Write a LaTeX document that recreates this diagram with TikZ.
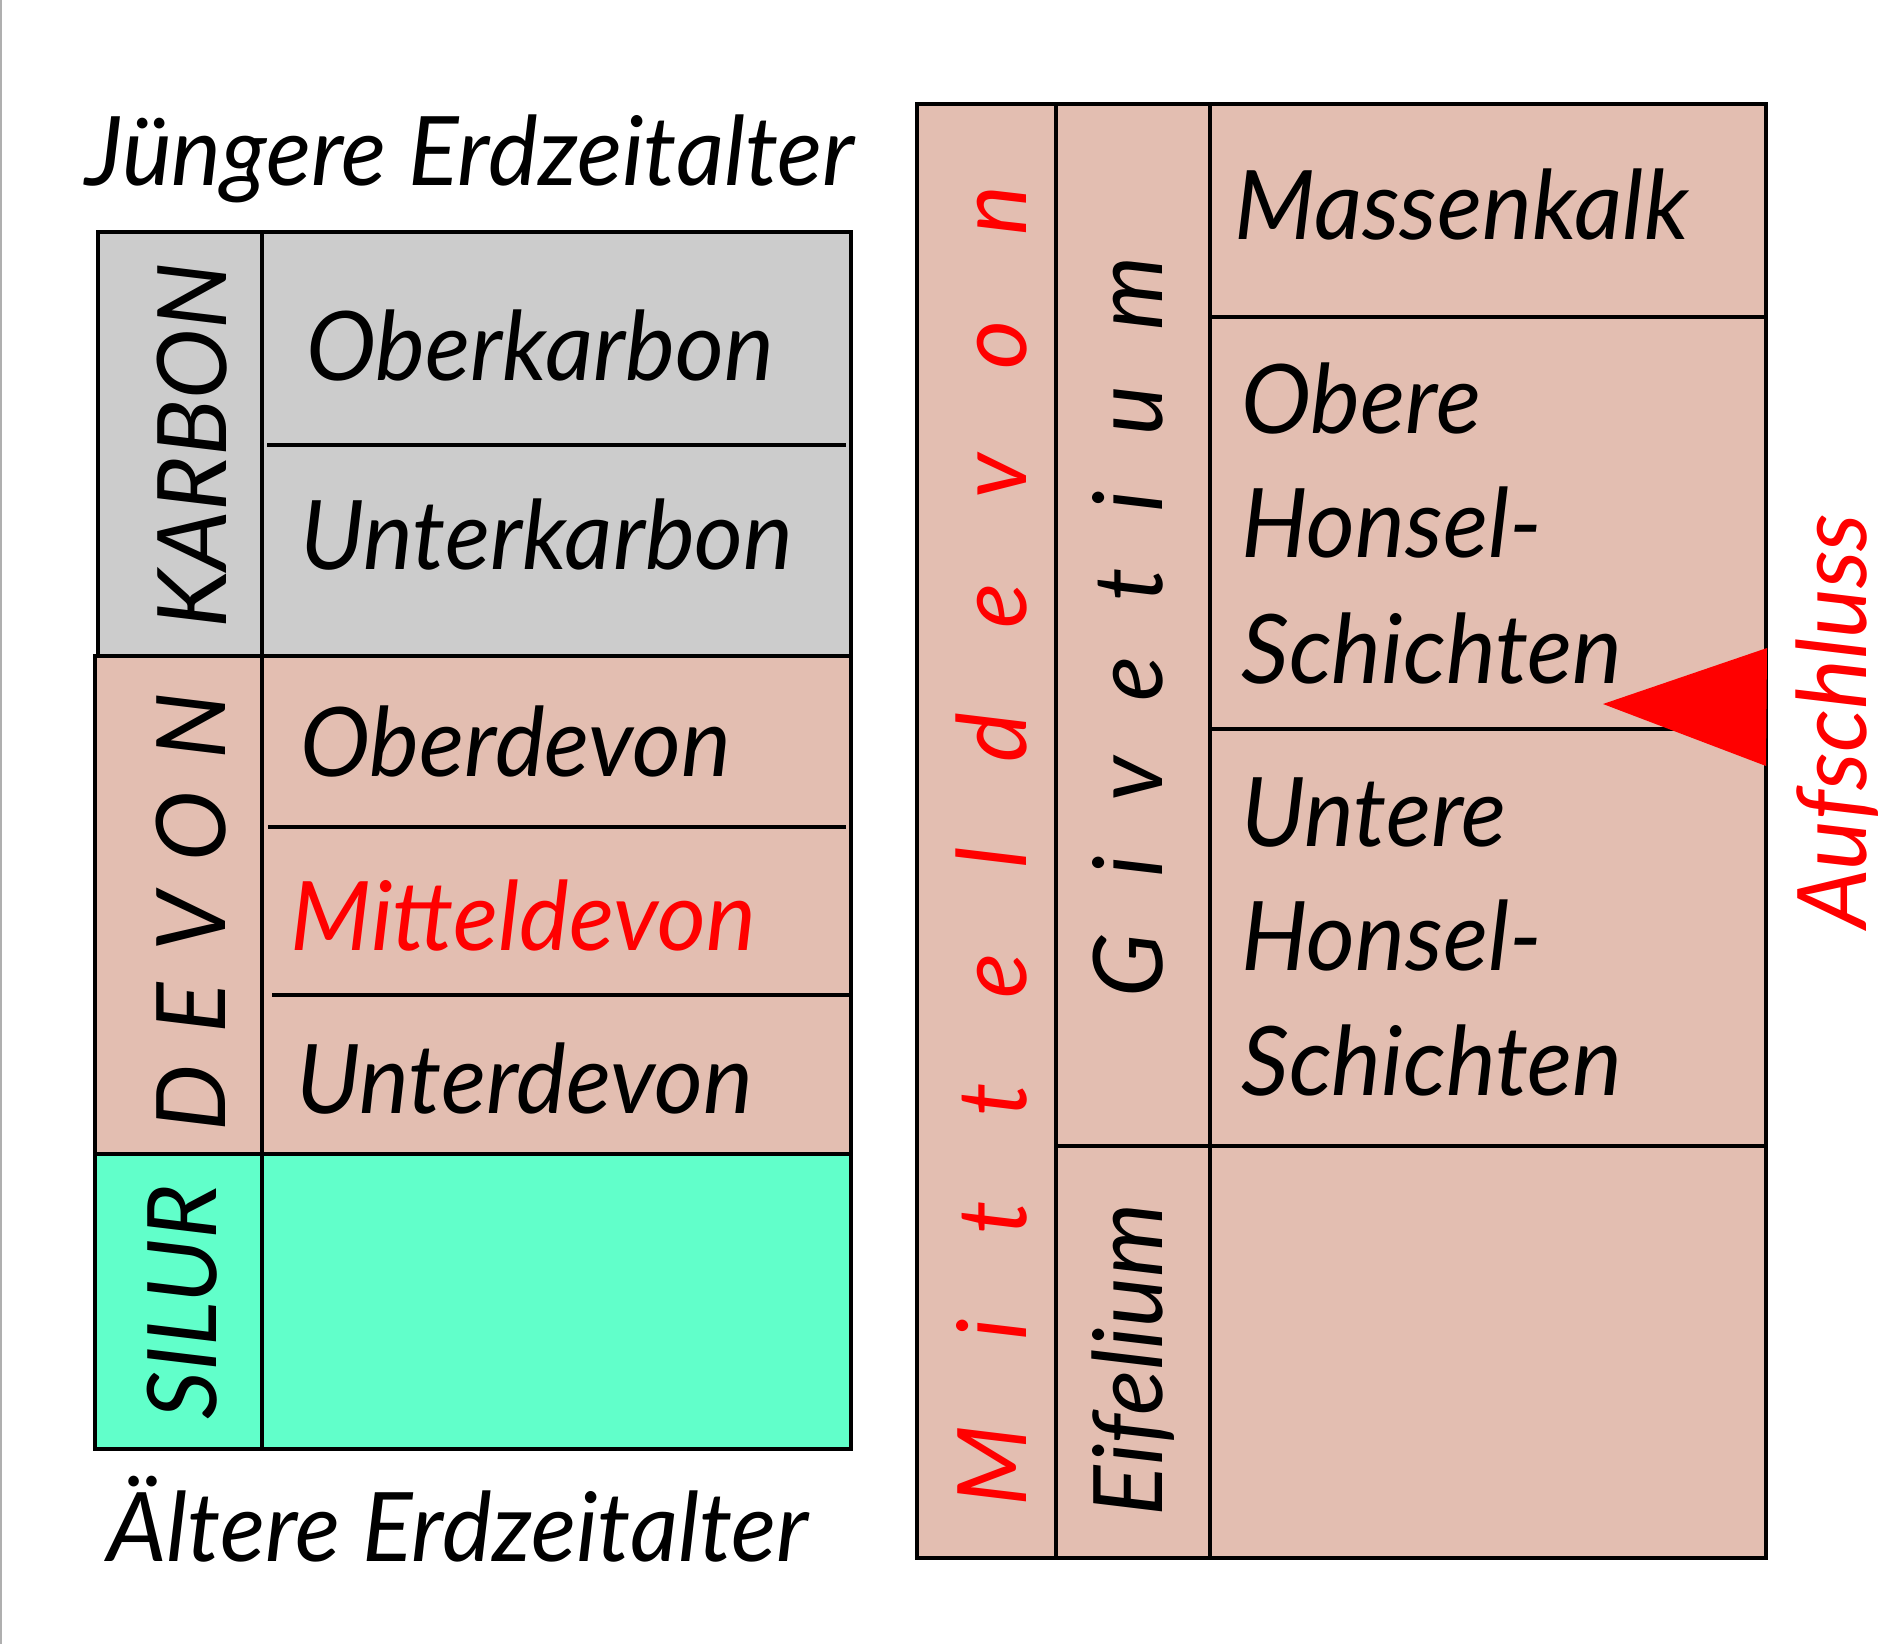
\documentclass[tikz,border=0pt]{standalone}
\usepackage{fontspec}
\setmainfont{Lato}[FakeStretch=0.98]
\definecolor{kgray}{RGB}{204,204,204}
\definecolor{dpink}{RGB}{227,190,177}
\definecolor{sgreen}{RGB}{97,255,202}
\definecolor{ared}{RGB}{255,0,0}
\definecolor{edge}{RGB}{175,175,175}
\tikzset{
  box/.style={draw=black, line width=1.7pt},
  lab/.style={font=\fontsize{48}{58}\selectfont\itshape, inner sep=0pt, text=black},
  hlab/.style={lab, anchor=base west},
  clab/.style={lab, anchor=base},
  rlab/.style={lab, rotate=90, anchor=base},
}
\begin{document}
\begin{tikzpicture}[x=0.5pt,y=-0.5pt]
\useasboundingbox (0,0) rectangle (1892,1644);
\fill[white] (0,0) rectangle (1892,1644);
\draw[edge, line width=1.2pt] (1,0) -- (1,1644);
% left table
\fill[kgray] (98,232) rectangle (851,656);
\fill[dpink] (95,656) rectangle (851,1154);
\fill[sgreen] (95,1154) rectangle (851,1449);
\draw[box] (98,232) rectangle (851,656);
\draw[box] (95,656) rectangle (851,1154);
\draw[box] (95,1154) rectangle (851,1449);
\draw[box] (262,232) -- (262,1449);
\draw[box] (267,445) -- (846,445);
\draw[box] (268,827) -- (846,827);
\draw[box] (272,995) -- (850,995);
% right table
\fill[dpink] (917,104) rectangle (1766,1558);
\draw[box] (917,104) rectangle (1766,1558);
\draw[box] (1056,104) -- (1056,1558);
\draw[box] (1210,104) -- (1210,1558);
\draw[box] (1210,317) -- (1766,317);
\draw[box] (1210,729) -- (1766,729);
\draw[box] (1058,1146) -- (1766,1146);
\fill[ared] (1603,704) -- (1767,648) -- (1766,766) -- cycle;
% texts left
\node[clab] (jung) at (470,185) {Jüngere Erdzeitalter};
\node[clab] (alt) at (458,1561) {Ältere Erdzeitalter};
\node[hlab] (okarb) at (306,380) {Oberkarbon};
\node[hlab] (ukarb) at (300,569) {Unterkarbon};
\node[hlab] (odev) at (300,776) {Oberdevon};
\node[hlab, text=ared] (mdev) at (290,950) {Mitteldevon};
\node[hlab] (udev) at (296,1113) {Unterdevon};
\node[rlab] (karbon) at (226,446) {KARBON};
\node[rlab] (devon) at (225,912) {\makebox[219pt][s]{D E V O N}};
\node[rlab] (silur) at (216,1302) {SILUR};
% texts right
\node[rlab, text=ared] (mittel) at (1026,846) {\makebox[660pt][s]{M i t t e l d e v o n}};
\node[rlab] (givet) at (1162,627) {\makebox[370pt][s]{G i v e t i u m}};
\node[rlab] (eifel) at (1162,1360) {Eifelium};
\node[hlab] (mkalk) at (1234,239) {Massenkalk};
\node[hlab] (ob1) at (1241,433) {Obere};
\node[hlab] (ob2) at (1241,557) {Honsel-};
\node[hlab] (ob3) at (1241,683) {Schichten};
\node[hlab] (un1) at (1241,846) {Untere};
\node[hlab] (un2) at (1241,970) {Honsel-};
\node[hlab] (un3) at (1241,1095) {Schichten};
\node[rlab, text=ared] (aufs) at (1866,721) {Aufschluss};
\end{tikzpicture}
\end{document}
